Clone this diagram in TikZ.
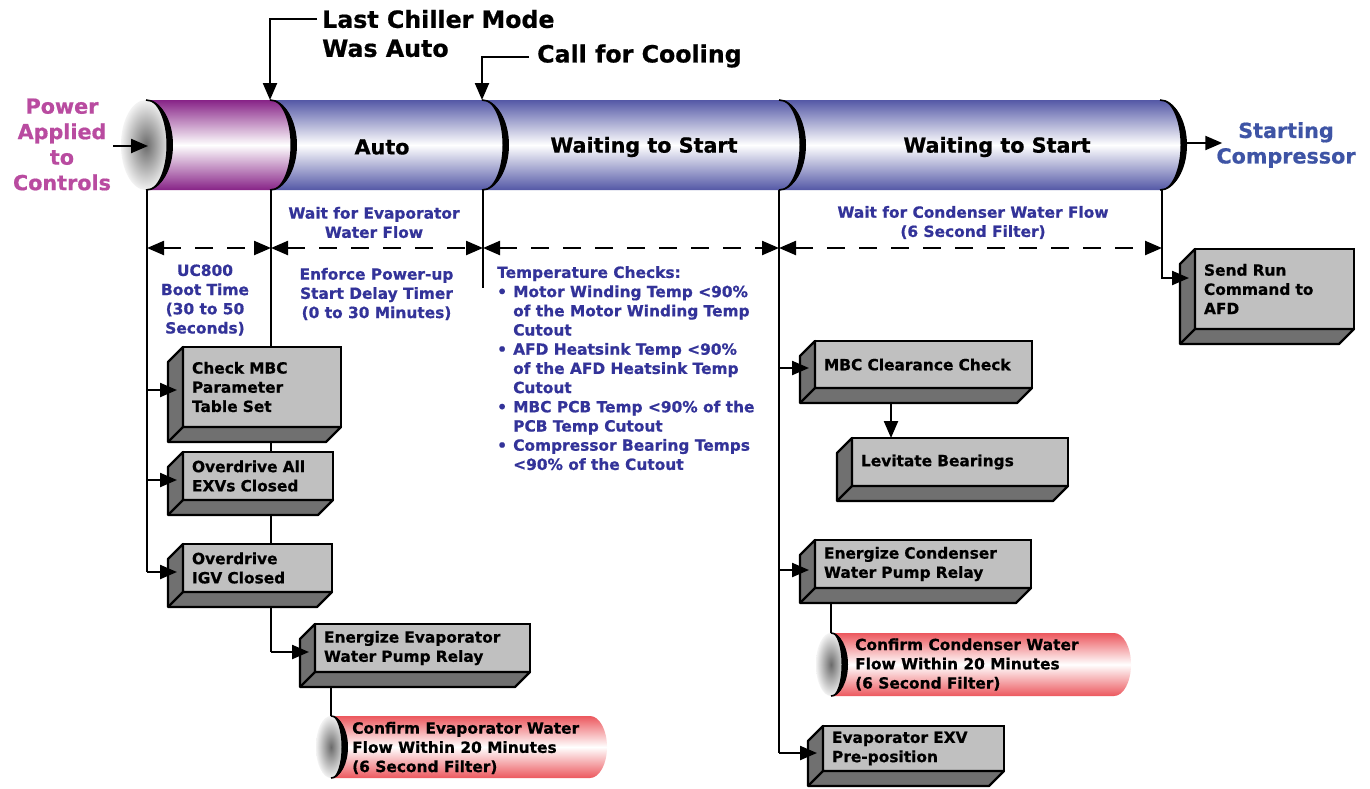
\documentclass[tikz,border=0pt]{standalone}
\usepackage{fontspec}
\setmainfont{DejaVu Sans}[BoldFeatures={FakeBold=0.7}]
\usetikzlibrary{arrows.meta}
\definecolor{pblue}{RGB}{84,88,166}
\definecolor{ppurple}{RGB}{135,35,135}
\definecolor{pred}{RGB}{236,88,94}
\definecolor{tblue}{RGB}{51,51,153}
\definecolor{sblue}{RGB}{62,84,165}
\definecolor{tmag}{RGB}{185,75,160}
\definecolor{boxfront}{RGB}{192,192,192}
\definecolor{boxside}{RGB}{112,112,112}
\pgfdeclarelayer{bg}
\pgfsetlayers{bg,main}
\newcommand\extrude[1]{%
  \draw[side] (#1.north west) -- ([shift={(-15,15)}]#1.north west) -- ([shift={(-15,15)}]#1.south west) -- ([shift={(-15,15)}]#1.south east) -- (#1.south east) -- (#1.south west) -- cycle;
  \draw[wire] (#1.south west) -- ([shift={(-15,15)}]#1.south west);}
\newcommand\crescent[4]{% x, ytop, ry, outer rx
  \fill[black] (#1,#2) arc[start angle=-90,end angle=90,x radius=#4,y radius=#3] arc[start angle=90,end angle=-90,x radius=#4-6.5,y radius=#3] -- cycle;
  \draw[line width=1.6pt] (#1,#2) arc[start angle=-90,end angle=90,x radius=#4-2,y radius=#3];}
\tikzset{
  small/.style={font=\bfseries\fontsize{15.4}{19.2}\selectfont},
  mid/.style={font=\bfseries\fontsize{20.7}{25.5}\selectfont},
  big/.style={font=\bfseries\fontsize{23.7}{29}\selectfont},
  box/.style={small, draw, line width=2.3pt, fill=boxfront, anchor=north west, align=left, inner xsep=9pt, inner ysep=0pt, outer sep=0pt},
  side/.style={draw, line width=2.3pt, fill=boxside, line join=round},
  wire/.style={line width=2.3pt},
  arr/.style={line width=2.3pt, -{Triangle[length=17pt,width=14pt]}},
  darr/.style={line width=2.3pt, dash pattern=on 18pt off 14pt, {Triangle[length=17pt,width=14pt]}-{Triangle[length=17pt,width=14pt]}},
  face/.style={inner color=black!58, outer color=black!5},
}
\begin{document}
\begin{tikzpicture}[x=1pt,y=-1pt]
\useasboundingbox (0,0) rectangle (1370,788);
\begin{pgfonlayer}{bg}
\fill[white] (0,0) rectangle (1370,788);
\end{pgfonlayer}
% ---------- main pipe ----------
\shade[top color=pblue, bottom color=pblue, middle color=white] (270,100) -- (1160,100) arc[start angle=-90,end angle=90,x radius=26,y radius=45] -- (270,190) -- cycle;
\shade[top color=ppurple, bottom color=ppurple, middle color=white] (146,100) -- (270,100) arc[start angle=-90,end angle=90,x radius=26,y radius=45] -- (146,190) -- cycle;
\shade[face] (146,145) ellipse[x radius=25,y radius=45];
\foreach \x in {146,270,482,779,1160}
  \crescent{\x}{100}{45}{27}
\coordinate (face) at (148,146);
\coordinate (p2) at (270,100);
\coordinate (p3) at (482,100);
\coordinate (pend) at (1186,143);
\coordinate (b1) at (147,190);
\coordinate (b2) at (271,190);
\coordinate (b3) at (483,190);
\coordinate (b3e) at (483,288);
\coordinate (b4) at (779,190);
\coordinate (b5) at (1162,190);
\coordinate (d1) at (147,248);
\coordinate (d2) at (271,248);
\coordinate (d3) at (483,248);
\coordinate (d4) at (779,248);
\coordinate (d5) at (1162,248);
% ---------- texts ----------
\node[mid, text=tmag, align=center, inner sep=2pt] (power) at (62,144.5) {Power\\Applied\\to\\Controls};
\node[big, anchor=west, align=left, inner sep=0pt] (last) at (322,33.5) {Last Chiller Mode\\Was Auto};
\node[big, anchor=west, inner sep=0pt] (call) at (537,56) {Call for Cooling};
\node[mid, text=sblue, align=center, inner sep=0pt] (start) at (1286,145) {Starting\\Compressor};
\node[mid] (auto) at (382,147) {Auto};
\node[mid] (wts1) at (644,147) {Waiting to Start};
\node[mid] (wts2) at (997,147) {Waiting to Start};
\node[small, text=tblue, align=center] (wevap) at (374,222.5) {Wait for Evaporator\\Water Flow};
\node[small, text=tblue, align=center] (boot) at (205,300) {UC800\\Boot Time\\(30 to 50\\Seconds)};
\node[small, text=tblue, align=center] (delay) at (376.5,294) {Enforce Power-up\\Start Delay Timer\\(0 to 30 Minutes)};
\node[small, text=tblue, align=center] (wcond) at (973,222.5) {Wait for Condenser Water Flow\\(6 Second Filter)};
\node[small, text=tblue, align=left, anchor=north west, inner sep=0pt] (temps) at (497,266) {Temperature Checks:\\
\makebox[16pt][l]{•}Motor Winding Temp <90\%\\
\hspace*{16pt}of the Motor Winding Temp\\
\hspace*{16pt}Cutout\\
\makebox[16pt][l]{•}AFD Heatsink Temp <90\%\\
\hspace*{16pt}of the AFD Heatsink Temp\\
\hspace*{16pt}Cutout\\
\makebox[16pt][l]{•}MBC PCB Temp <90\% of the\\
\hspace*{16pt}PCB Temp Cutout\\
\makebox[16pt][l]{•}Compressor Bearing Temps\\
\hspace*{16pt}<90\% of the Cutout};
% ---------- boxes ----------
\node[box, text width=140pt, minimum height=80pt] (chk) at (183,347) {Check MBC\\Parameter\\Table Set};
\extrude{chk}
\node[box, text width=132pt, minimum height=48pt] (oda) at (183,452) {Overdrive All\\EXVs Closed};
\extrude{oda}
\node[box, text width=131pt, minimum height=48pt] (igv) at (183,544) {Overdrive\\IGV Closed};
\extrude{igv}
\node[box, text width=197pt, minimum height=48pt] (evp) at (315,624) {Energize Evaporator\\Water Pump Relay};
\extrude{evp}
\node[box, text width=199pt, minimum height=47pt] (mbc) at (815,341) {MBC Clearance Check};
\extrude{mbc}
\node[box, text width=198pt, minimum height=48pt] (lev) at (852,438) {Levitate Bearings};
\extrude{lev}
\node[box, text width=198pt, minimum height=48pt] (cnd) at (815,540) {Energize Condenser\\Water Pump Relay};
\extrude{cnd}
\node[box, text width=163pt, minimum height=45pt] (exv) at (823,726) {Evaporator EXV\\Pre-position};
\extrude{exv}
\node[box, text width=141pt, minimum height=80pt] (snd) at (1195,249) {Send Run\\Command to\\AFD};
\extrude{snd}
\coordinate (chkin) at ([yshift=-3pt]chk.west);
\coordinate (odain) at ([yshift=-4pt]oda.west);
\coordinate (igvin) at ([yshift=-4pt]igv.west);
\coordinate (evpin) at ([yshift=-4pt]evp.west);
\coordinate (mbcin) at ([yshift=-3.5pt]mbc.west);
\coordinate (cndin) at ([yshift=-6pt]cnd.west);
\coordinate (exvin) at ([yshift=-4.5pt]exv.west);
\coordinate (sndin) at ([yshift=11pt]snd.west);
\coordinate (mbcbot) at ([xshift=-32.5pt,yshift=-16pt]mbc.south);
\coordinate (evpbot) at ([xshift=-91.5pt,yshift=-16pt]evp.south);
\coordinate (cndbot) at ([xshift=-92pt,yshift=-16pt]cnd.south);
% ---------- red cylinders ----------
\shade[top color=pred, bottom color=pred, middle color=white] (331,716) -- (590,716) arc[start angle=-90,end angle=90,x radius=17,y radius=31] -- (331,778) -- cycle;
\shade[face] (331,747) ellipse[x radius=15,y radius=31];
\crescent{331}{716}{31}{17}
\coordinate (ecyl) at (331,716);
\node[small, anchor=west, align=left, inner sep=0pt] (ecyltext) at (352,748) {Confirm Evaporator Water\\Flow Within 20 Minutes\\(6 Second Filter)};
\shade[top color=pred, bottom color=pred, middle color=white] (831,633) -- (1114,633) arc[start angle=-90,end angle=90,x radius=17,y radius=31.5] -- (831,696) -- cycle;
\shade[face] (831,664.5) ellipse[x radius=15,y radius=31.5];
\crescent{831}{633}{31.5}{17}
\coordinate (ccyl) at (831,633);
\node[small, anchor=west, align=left, inner sep=0pt] (ccyltext) at (855,664.5) {Confirm Condenser Water\\Flow Within 20 Minutes\\(6 Second Filter)};
% ---------- background wires ----------
\begin{pgfonlayer}{bg}
\draw[wire] (b1) -- (b1 |- igvin);
\draw[wire] (b2) -- (b2 |- evpin);
\draw[wire] (b3) -- (b3e);
\draw[wire] (b4) -- (b4 |- exvin);
\end{pgfonlayer}
% ---------- arrows ----------
\draw[darr] (d1) -- (d2);
\draw[darr] (d2) -- (d3);
\draw[darr] (d3) -- (d4);
\draw[darr] (d4) -- (d5);
\draw[arr] (power.east |- face) -- (face);
\draw[arr] ([xshift=-5pt,yshift=14.5pt]last.west) -| (p2);
\draw[arr] ([xshift=-8pt,yshift=-1pt]call.west) -| (p3);
\draw[arr, shorten >=-6pt] (pend) -- (pend -| start.west);
\draw[arr, shorten >=6pt] (b1 |- chkin) -- (chkin);
\draw[arr, shorten >=6pt] (b1 |- odain) -- (odain);
\draw[arr, shorten >=6pt] (b1 |- igvin) -- (igvin);
\draw[arr, shorten >=6pt] (b2 |- evpin) -- (evpin);
\draw[arr, shorten >=6pt] (b4 |- mbcin) -- (mbcin);
\draw[arr, shorten >=6pt] (b4 |- cndin) -- (cndin);
\draw[arr, shorten >=6pt] (b4 |- exvin) -- (exvin);
\draw[arr, shorten >=6pt] (b5) |- (sndin);
\draw[arr] (mbcbot) -- (mbcbot |- lev.north);
\draw[wire] (evpbot) -- (ecyl);
\draw[wire] (cndbot) -- (ccyl);
\end{tikzpicture}
\end{document}
